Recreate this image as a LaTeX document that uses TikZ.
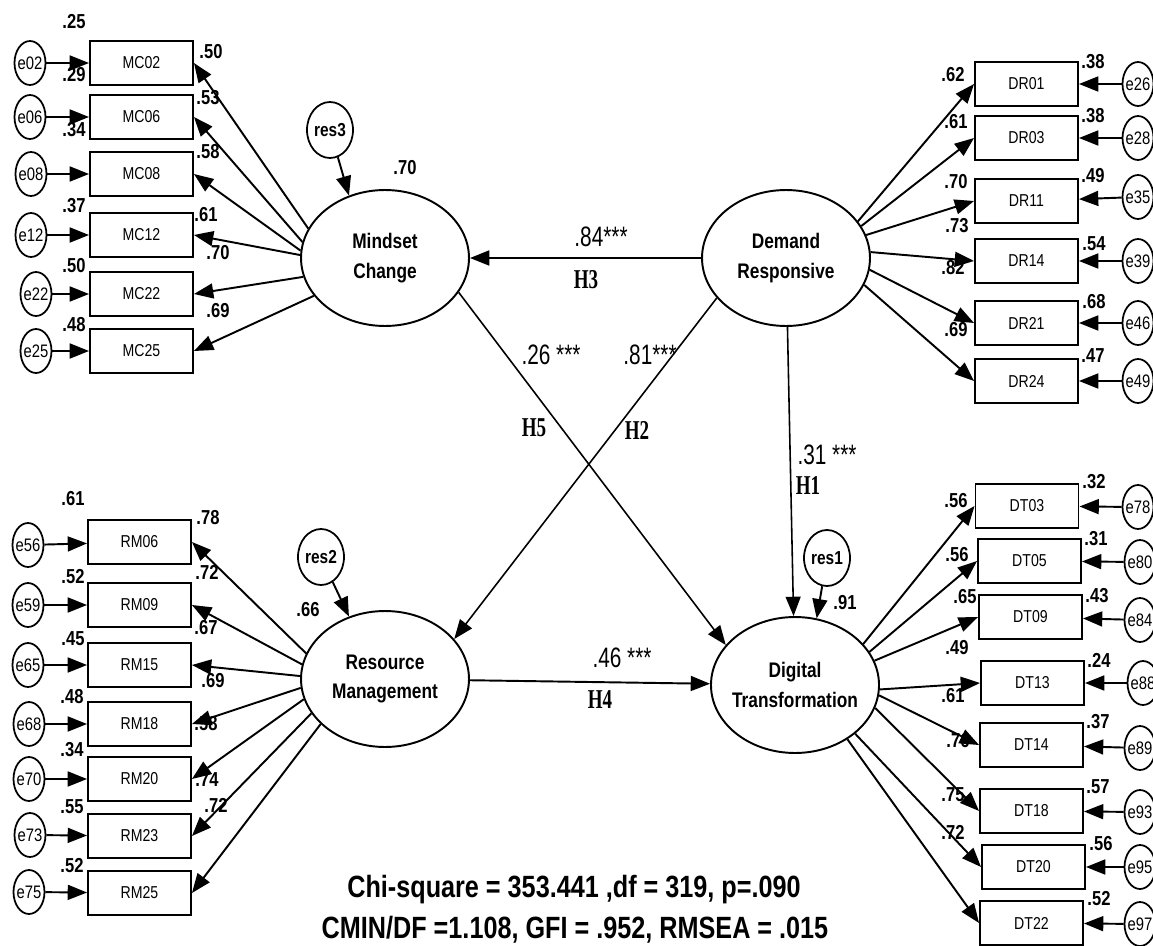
\documentclass[tikz,border=0pt]{standalone}
\usepackage{fontspec}
\setmainfont{Liberation Sans}[FakeStretch=0.82]
\newfontfamily\coeffont{Liberation Sans}[FakeStretch=0.74]
\newfontfamily\hypfont{Liberation Serif}[FakeStretch=0.7]
\usepackage{tikz}
\usetikzlibrary{shapes.geometric}
\usetikzlibrary{arrows.meta}

\begin{document}
\begin{tikzpicture}[x=0.02cm, y=-0.02cm,
  latent/.style={draw, ellipse, line width=1.1pt, minimum width=3.36cm, minimum height=2.72cm, inner xsep=-2pt, align=center, font=\bfseries\fontsize{12}{17}\selectfont},
  item/.style={draw, rectangle, line width=1.1pt, minimum width=2.06cm, minimum height=0.88cm, inner sep=0pt, font=\fontsize{9.8}{10}\selectfont},
  err/.style={draw, ellipse, line width=1pt, minimum width=0.62cm, minimum height=0.88cm, inner xsep=-1.5pt, inner ysep=0pt, font=\fontsize{10.3}{10}\selectfont},
  resid/.style={draw, ellipse, line width=1pt, minimum width=0.92cm, minimum height=1.12cm, inner xsep=-1pt, font=\bfseries\fontsize{10.7}{11}\selectfont},
  num/.style={inner sep=0pt, font=\bfseries\fontsize{11.5}{12}\selectfont},
  coef/.style={inner sep=0pt, font=\coeffont\fontsize{16}{16}\selectfont},
  hyp/.style={inner sep=0pt, font=\hypfont\bfseries\fontsize{15.5}{16}\selectfont},
  fitstat/.style={inner sep=0pt, font=\bfseries\fontsize{17.5}{18}\selectfont},
  link/.style={line width=1.1pt, -{Triangle[length=11pt, width=8.5pt]}},
  hlink/.style={line width=0.9pt, -{Triangle[length=11pt, width=8.5pt]}}]
\useasboundingbox (0,0) rectangle (1153,946);

\node[latent] (MC) at (385,258) {Mindset\\Change};
\node[latent] (DR) at (786,258) {Demand\\Responsive};
\node[latent] (RM) at (385,679) {Resource\\Management};
\node[latent] (DT) at (795,685) {Digital\\Transformation};

\node[resid] (res3) at (330,130) {res3};
\node[resid] (res2) at (321,557) {res2};
\node[resid] (res1) at (827,558) {res1};

\node[item] (MC02) at (141.5,63) {MC02};
\node[item] (MC06) at (141.5,117) {MC06};
\node[item] (MC08) at (141.5,174) {MC08};
\node[item] (MC12) at (141.5,235) {MC12};
\node[item] (MC22) at (141.5,294) {MC22};
\node[item] (MC25) at (141.5,351) {MC25};
\node[err] (e02) at (30,63) {e02};
\node[err] (e06) at (30,117) {e06};
\node[err] (e08) at (31,174) {e08};
\node[err] (e12) at (31,235) {e12};
\node[err] (e22) at (36,294) {e22};
\node[err] (e25) at (36,351) {e25};

\node[item] (DR01) at (1026.5,84) {DR01};
\node[item] (DR03) at (1026.5,138) {DR03};
\node[item] (DR11) at (1026.5,201) {DR11};
\node[item] (DR14) at (1026.5,261) {DR14};
\node[item] (DR21) at (1026.5,323) {DR21};
\node[item] (DR24) at (1026.5,381) {DR24};
\node[err] (e26) at (1138,84) {e26};
\node[err] (e28) at (1138,138) {e28};
\node[err] (e35) at (1138,197) {e35};
\node[err] (e39) at (1138,261) {e39};
\node[err] (e46) at (1138,323) {e46};
\node[err] (e49) at (1138,381) {e49};

\node[item] (RM06) at (139.5,542) {RM06};
\node[item] (RM09) at (139.5,605) {RM09};
\node[item] (RM15) at (139.5,665) {RM15};
\node[item] (RM18) at (139.5,724) {RM18};
\node[item] (RM20) at (139.5,779) {RM20};
\node[item] (RM23) at (139.5,836) {RM23};
\node[item] (RM25) at (139.5,893) {RM25};
\node[err] (e56) at (28,545) {e56};
\node[err] (e59) at (28,605) {e59};
\node[err] (e65) at (28,665) {e65};
\node[err] (e68) at (29,724) {e68};
\node[err] (e70) at (29,779) {e70};
\node[err] (e73) at (30,835) {e73};
\node[err] (e75) at (29,892) {e75};

\node[item] (DT03) at (1027,506) {DT03};
\node[item] (DT05) at (1029.5,561) {DT05};
\node[item] (DT09) at (1030.5,617) {DT09};
\node[item] (DT13) at (1032.5,683) {DT13};
\node[item] (DT14) at (1031.5,745) {DT14};
\node[item] (DT18) at (1031.5,811) {DT18};
\node[item] (DT20) at (1033.5,867) {DT20};
\node[item] (DT22) at (1031.5,923) {DT22};
\node[err] (e78) at (1138,507) {e78};
\node[err] (e80) at (1140,562) {e80};
\node[err] (e84) at (1140,620) {e84};
\node[err] (e88) at (1143,683) {e88};
\node[err] (e89) at (1140,748) {e89};
\node[err] (e93) at (1140,812) {e93};
\node[err] (e95) at (1140,867) {e95};
\node[err] (e97) at (1140,924) {e97};

\draw[link] (e02) -- (MC02);
\draw[link] (e06) -- (MC06);
\draw[link] (e08) -- (MC08);
\draw[link] (e12) -- (MC12);
\draw[link] (e22) -- (MC22);
\draw[link] (e25) -- (MC25);
\draw[link] (MC.159) -- (MC02.east);
\draw[link] (MC.169) -- (MC06.east);
\draw[link] (MC.175) -- (MC08.east);
\draw[link] (MC.178) -- (MC12.east);
\draw[link] (MC.193) -- (MC22.east);
\draw[link] (MC.208) -- (MC25.east);

\draw[link] (e26) -- (DR01);
\draw[link] (e28) -- (DR03);
\draw[link] (e35) -- (DR11);
\draw[link] (e39) -- (DR14);
\draw[link] (e46) -- (DR21);
\draw[link] (e49) -- (DR24);
\draw[link] (DR.27) -- (DR01.west);
\draw[link] (DR.23) -- (DR03.west);
\draw[link] (DR.16) -- (DR11.west);
\draw[link] (DR.4) -- (DR14.west);
\draw[link] (DR.-8) -- (DR21.west);
\draw[link] (DR.-19) -- (DR24.west);

\draw[link] (e56) -- (RM06);
\draw[link] (e59) -- (RM09);
\draw[link] (e65) -- (RM15);
\draw[link] (e68) -- (RM18);
\draw[link] (e70) -- (RM20);
\draw[link] (e73) -- (RM23);
\draw[link] (e75) -- (RM25);
\draw[link] (RM.162) -- (RM06.east);
\draw[link] (RM.170) -- (RM09.east);
\draw[link] (RM.178) -- (RM15.east);
\draw[link] (RM.186) -- (RM18.east);
\draw[link] (RM.194) -- (RM20.east);
\draw[link] (RM.205) -- (RM23.east);
\draw[link] (RM.215) -- (RM25.east);

\draw[link] (e78) -- (DT03);
\draw[link] (e80) -- (DT05);
\draw[link] (e84) -- (DT09);
\draw[link] (e88) -- (DT13);
\draw[link] (e89) -- (DT14);
\draw[link] (e93) -- (DT18);
\draw[link] (e95) -- (DT20);
\draw[link] (e97) -- (DT22);
\draw[link] (DT.31) -- (DT03.west);
\draw[link] (DT.24) -- (DT05.west);
\draw[link] (DT.17) -- (DT09.west);
\draw[link] (DT.-3) -- (DT13.west);
\draw[link] (DT.-7) -- (DT14.west);
\draw[link] (DT.-16) -- (DT18.west);
\draw[link] (DT.-39) -- (DT20.west);
\draw[link] (DT.-46) -- (DT22.west);

\draw[link] (res3) -- (MC.120);
\draw[link] (res2) -- (RM.120);
\draw[link] (res1) -- (DT.72);

\draw[link] (DR) -- (MC);
\draw[hlink] (MC.-25) -- (DT.150);
\draw[hlink] (DR.-150) -- (RM.30);
\draw[hlink] (DR) -- (DT);
\draw[link] (RM) -- (DT);

\node[num] (lMC02) at (74,22) {.25};
\node[num] (lMC06) at (74,75) {.29};
\node[num] (lMC08) at (74,130) {.34};
\node[num] (lMC12) at (74,206) {.37};
\node[num] (lMC22) at (74,266) {.50};
\node[num] (lMC25) at (74,325) {.48};
\node[num] (rMC02) at (211,52) {.50};
\node[num] (rMC06) at (208,98) {.53};
\node[num] (rMC08) at (208,152) {.58};
\node[num] (rMC12) at (206,215) {.61};
\node[num] (rMC22) at (218,253) {.70};
\node[num] (rMC25) at (218,311) {.69};

\node[num] (lDR01) at (953,75) {.62};
\node[num] (lDR03) at (956,122) {.61};
\node[num] (lDR11) at (956,182) {.70};
\node[num] (lDR14) at (957,226) {.73};
\node[num] (lDR21) at (953,268) {.82};
\node[num] (lDR24) at (956,330) {.69};
\node[num] (rDR01) at (1093,62) {.38};
\node[num] (rDR03) at (1093,116) {.38};
\node[num] (rDR11) at (1093,176) {.49};
\node[num] (rDR14) at (1094,244) {.54};
\node[num] (rDR21) at (1094,302) {.68};
\node[num] (rDR24) at (1093,356) {.47};

\node[num] (lRM06) at (73,499) {.61};
\node[num] (lRM09) at (73,577) {.52};
\node[num] (lRM15) at (73,639) {.45};
\node[num] (lRM18) at (72,697) {.48};
\node[num] (lRM20) at (72,750) {.34};
\node[num] (lRM23) at (72,807) {.55};
\node[num] (lRM25) at (72,866) {.52};
\node[num] (rRM06) at (208,518) {.78};
\node[num] (rRM09) at (207,572) {.72};
\node[num] (rRM15) at (206,628) {.67};
\node[num] (rRM18) at (213,681) {.69};
\node[num] (rRM20) at (206,724) {.58};
\node[num] (rRM23) at (207,780) {.74};
\node[num] (rRM25) at (216,805) {.72};

\node[num] (lDT03) at (956,501) {.56};
\node[num] (lDT05) at (957,555) {.56};
\node[num] (lDT09) at (965,597) {.65};
\node[num] (lDT13) at (957,648) {.49};
\node[num] (lDT14) at (953,696) {.61};
\node[num] (lDT18) at (958,741) {.76};
\node[num] (lDT20) at (953,795) {.75};
\node[num] (lDT22) at (953,832) {.72};
\node[num] (rDT03) at (1094,482) {.32};
\node[num] (rDT05) at (1096,539) {.31};
\node[num] (rDT09) at (1097,596) {.43};
\node[num] (rDT13) at (1099,660) {.24};
\node[num] (rDT14) at (1098,722) {.37};
\node[num] (rDT18) at (1098,787) {.57};
\node[num] (rDT20) at (1101,844) {.56};
\node[num] (rDT22) at (1099,899) {.52};

\node[num] (sqMC) at (405,168) {.70};
\node[num] (sqRM) at (308,610) {.66};
\node[num] (sqDT) at (845,603) {.91};

\node[coef] (cH3) at (601,237) {.84***};
\node[hyp] (H3) at (586,280) {H3};
\node[coef] (cH5) at (551,355) {.26 ***};
\node[hyp] (H5) at (534,428) {H5};
\node[coef] (cH2) at (650,355) {.81***};
\node[hyp] (H2) at (637,430) {H2};
\node[coef] (cH1) at (827,455) {.31 ***};
\node[hyp] (H1) at (808,486) {H1};
\node[coef] (cH4) at (622,658) {.46 ***};
\node[hyp] (H4) at (600,700) {H4};

\node[fitstat, anchor=base] (chi) at (574,897) {Chi-square = 353.441 ,df = 319, p=.090};
\node[fitstat, anchor=base] (cmin) at (575,938) {CMIN/DF =1.108, GFI = .952, RMSEA = .015};
\end{tikzpicture}
\end{document}
